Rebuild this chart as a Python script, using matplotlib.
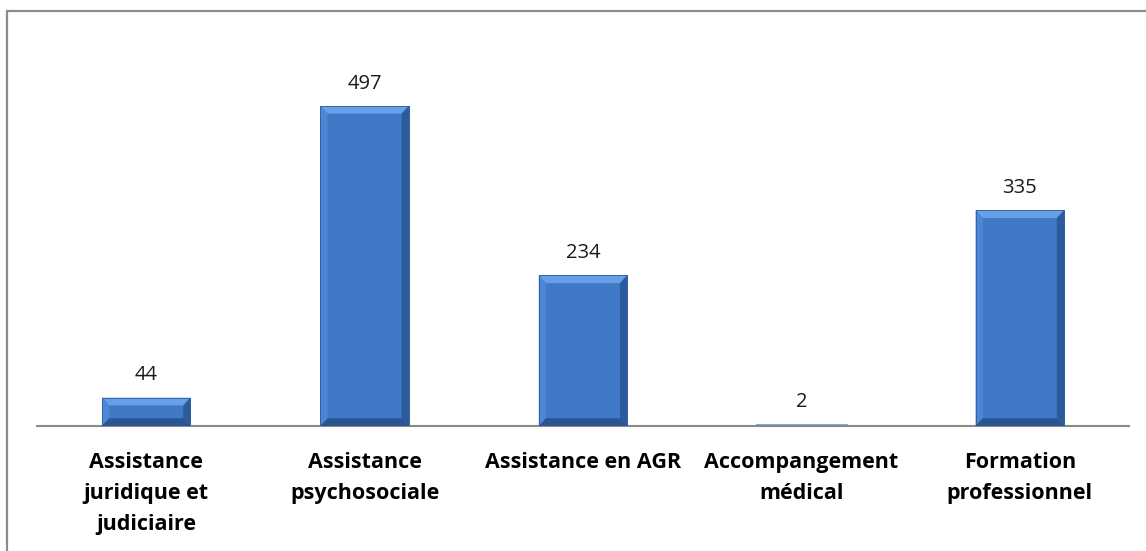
import matplotlib.pyplot as plt
from matplotlib.patches import Polygon, Rectangle

# chart data
categories = ["Assistance\njuridique et\njudiciaire", "Assistance\npsychosociale",
              "Assistance en AGR", "Accompangement\nmédical", "Formation\nprofessionnel"]
values = [44, 497, 234, 2, 335]

plt.rcParams['font.family'] = ['Open Sans', 'DejaVu Sans']

fig = plt.figure(figsize=(11.46, 5.51), dpi=100)
ax = fig.add_axes([37 / 1146, 125 / 551, 1092 / 1146, 396 / 551])

x = range(len(values))
bars = ax.bar(x, values, width=0.405, color='#4079c6', edgecolor='#2f5e9c', linewidth=0.6, zorder=2)

# bevel look: lighter top/left, darker right/bottom
bx = 0.033  # data units (~7 px)
by = 12.0   # data units (~8 px)
for b in bars:
    x0, w, h = b.get_x(), b.get_width(), b.get_height()
    x1 = x0 + w
    if h < 5:
        # tiny bar: drawn as a flat grey-blue strip on the axis
        b.set_facecolor('#7189ab')
        b.set_edgecolor('#7189ab')
        b.set_linewidth(1.8)
        b.set_zorder(5)
        continue
    dy = min(by, h / 2)
    dx = bx
    ax.add_patch(Polygon([(x0, h), (x1, h), (x1 - dx, h - dy), (x0 + dx, h - dy)],
                         closed=True, facecolor='#66a0e8', edgecolor='none', zorder=3))
    ax.add_patch(Polygon([(x0, 0), (x0, h), (x0 + dx, h - dy), (x0 + dx, dy)],
                         closed=True, facecolor='#4d86d4', edgecolor='none', zorder=3))
    ax.add_patch(Polygon([(x1, 0), (x1, h), (x1 - dx, h - dy), (x1 - dx, dy)],
                         closed=True, facecolor='#2b5b9b', edgecolor='none', zorder=3))
    ax.add_patch(Polygon([(x0, 0), (x1, 0), (x1 - dx, dy), (x0 + dx, dy)],
                         closed=True, facecolor='#2a5590', edgecolor='none', zorder=3))
    ax.add_patch(Rectangle((x0, 0), w, h, fill=False, edgecolor='#2f5e9c', linewidth=0.6, zorder=4))

for xi, v in zip(x, values):
    ax.annotate(str(v), (xi, v), xytext=(0, 12.5), textcoords='offset points',
                ha='center', va='baseline', fontsize=14.5, color='#1a1a1a')

ax.set_xlim(-0.5, len(values) - 0.5)
ax.set_ylim(0, 615)
ax.set_xticks(list(x))
ax.set_xticklabels(categories, fontsize=15.5, fontweight='bold', linespacing=1.62)
ax.tick_params(axis='x', length=0, pad=19)
ax.set_yticks([])
for s in ['top', 'right', 'left']:
    ax.spines[s].set_visible(False)
ax.spines['bottom'].set_color('#8a8a8a')
ax.spines['bottom'].set_linewidth(1.5)
ax.spines['bottom'].set_zorder(1)

# outer chart border (extends past the right and bottom edges)
fig.patches.append(Rectangle((7 / 1146, -0.1), 1.2, (540 / 551) + 0.1, transform=fig.transFigure,
                             fill=False, edgecolor='#8c8c8c', linewidth=1.6))

fig.savefig('out.png', dpi=100)
